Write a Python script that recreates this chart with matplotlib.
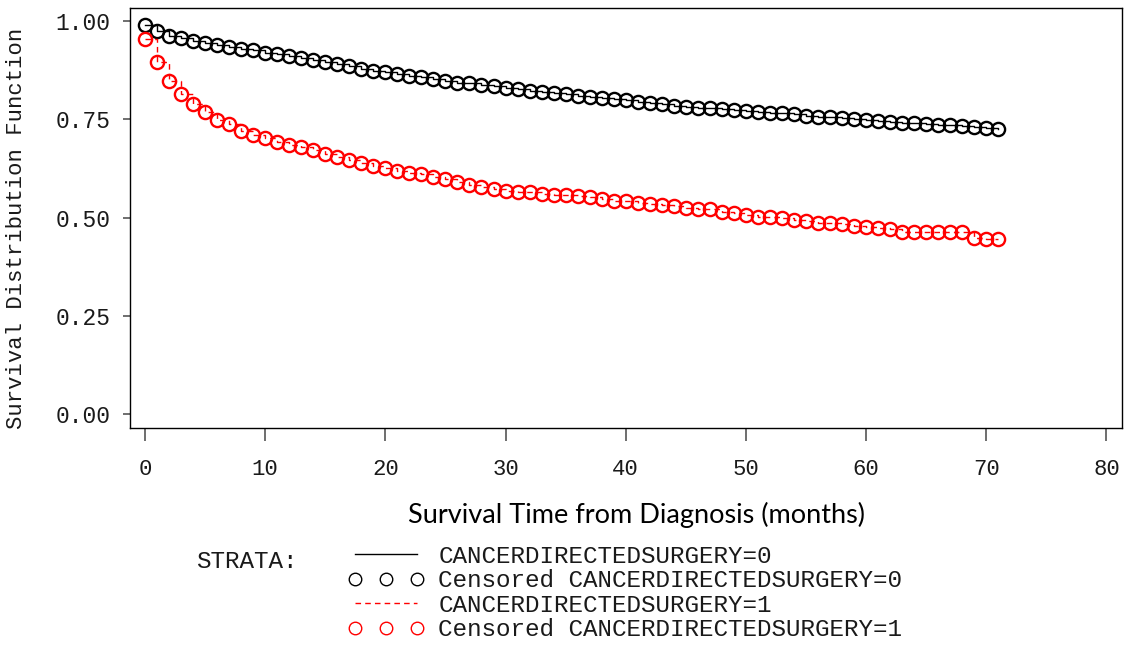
import numpy as np
import matplotlib
matplotlib.use('Agg')
import matplotlib.pyplot as plt
from matplotlib.lines import Line2D

# survival estimates, one value per month
months = np.arange(0, 72)

surv_0 = [0.990, 0.975, 0.962, 0.955, 0.948, 0.943, 0.938, 0.933, 0.928, 0.925,
          0.919, 0.915, 0.910, 0.905, 0.900, 0.896, 0.891, 0.884, 0.878, 0.873,
          0.870, 0.864, 0.860, 0.856, 0.851, 0.848, 0.843, 0.841, 0.837, 0.833,
          0.828, 0.826, 0.822, 0.820, 0.816, 0.813, 0.809, 0.807, 0.805, 0.802,
          0.799, 0.793, 0.790, 0.788, 0.783, 0.782, 0.779, 0.778, 0.776, 0.773,
          0.771, 0.769, 0.766, 0.765, 0.762, 0.759, 0.756, 0.755, 0.752, 0.750,
          0.748, 0.745, 0.742, 0.740, 0.739, 0.738, 0.736, 0.734, 0.733, 0.730,
          0.727, 0.725]

surv_1 = [0.954, 0.894, 0.848, 0.814, 0.789, 0.769, 0.748, 0.738, 0.721, 0.710,
          0.701, 0.693, 0.684, 0.680, 0.672, 0.662, 0.653, 0.645, 0.638, 0.632,
          0.625, 0.617, 0.614, 0.611, 0.602, 0.597, 0.589, 0.583, 0.577, 0.573,
          0.568, 0.564, 0.564, 0.560, 0.557, 0.556, 0.555, 0.551, 0.546, 0.543,
          0.543, 0.538, 0.534, 0.532, 0.528, 0.523, 0.521, 0.521, 0.515, 0.511,
          0.506, 0.502, 0.501, 0.498, 0.494, 0.491, 0.487, 0.485, 0.483, 0.479,
          0.477, 0.473, 0.470, 0.464, 0.462, 0.462, 0.462, 0.462, 0.464, 0.447,
          0.446, 0.446]

x_ticks = [0, 10, 20, 30, 40, 50, 60, 70, 80]
y_ticks = [0.00, 0.25, 0.50, 0.75, 1.00]

label_0 = 'CANCERDIRECTEDSURGERY=0'
label_1 = 'CANCERDIRECTEDSURGERY=1'

mono = 'Liberation Mono'
txt_col = '#1a1a1a'

fig = plt.figure(figsize=(11.31, 6.48), dpi=100)
ax = fig.add_axes([130/1131, 1 - 428/648, 992/1131, 420/648])

# step curves + censor circles
ax.step(months, surv_0, where='post', color='black', lw=1.0)
ax.plot(months, surv_0, 'o', mfc='none', mec='black', ms=9.5, mew=1.7)
ax.step(months, surv_1, where='post', color='red', lw=1.0, ls=(0, (4, 3)))
ax.plot(months, surv_1, 'o', mfc='none', mec='red', ms=9.5, mew=1.7)

ax.set_xlim(-1.25, 81.3)
ax.set_ylim(-0.035, 1.0325)
ax.set_xticks(x_ticks)
ax.set_yticks(y_ticks)
ax.set_yticklabels([f'{v:.2f}' for v in y_ticks])

for s in ax.spines.values():
    s.set_linewidth(1.0)
    s.set_color('black')

ax.tick_params(axis='x', direction='out', length=9, width=1.2, color='#555555',
               pad=13, labelsize=16)
ax.tick_params(axis='y', direction='out', length=5, width=1.2, color='#555555',
               pad=9, labelsize=16.5)
for lbl in ax.get_xticklabels() + ax.get_yticklabels():
    lbl.set_family(mono)
    lbl.set_color(txt_col)

ax.set_xlabel('Survival Time from Diagnosis (months)', family='Lato', fontsize=19.5)
ax.xaxis.set_label_coords(0.511, -0.175)
ax.set_ylabel('Survival Distribution Function', family=mono, fontsize=16,
              color=txt_col)
ax.yaxis.set_label_coords(-0.104, 0.475)

# legend block under the plot
handles = [
    Line2D([], [], color='black', lw=1.0),
    Line2D([], [], ls='none', marker='o', mfc='none', mec='black', ms=9, mew=1.0),
    Line2D([], [], color='red', lw=1.0, ls=(0, (4, 3))),
    Line2D([], [], ls='none', marker='o', mfc='none', mec='red', ms=9, mew=1.0),
]
labels = [label_0, 'Censored ' + label_0, label_1, 'Censored ' + label_1]
leg = fig.legend(handles, labels, loc='upper left', bbox_to_anchor=(348/1131, 1 - 545/648),
                 frameon=False, numpoints=3, handlelength=3.15, handletextpad=0.57,
                 labelspacing=0.06, borderpad=0, borderaxespad=0,
                 prop={'family': mono, 'size': 17.5})
for t in leg.get_texts():
    t.set_color(txt_col)

fig.text(196/1131, 1 - 561/648, 'STRATA:', family=mono, fontsize=17.5,
         color=txt_col, va='center', ha='left')

fig.savefig('out.png', dpi=100)
